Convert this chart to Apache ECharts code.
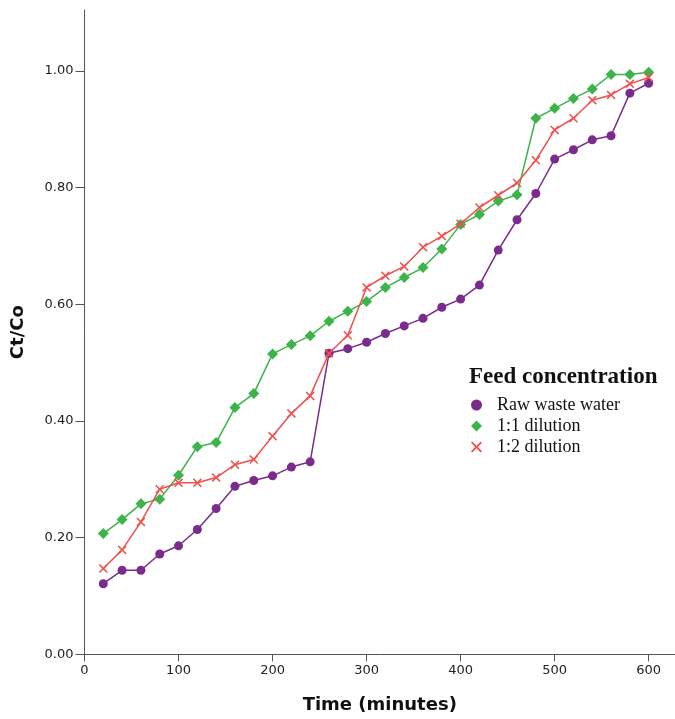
<!DOCTYPE html>
<html>
<head>
<meta charset="utf-8">
<script src="https://cdn.jsdelivr.net/npm/echarts@6/dist/echarts.min.js"></script>
<style>html,body{margin:0;padding:0;background:#fff}#c{width:675px;height:719px}</style>
</head>
<body>
<div id="c"></div>
<script>
var times = [20,40,60,80,100,120,140,160,180,200,220,240,260,280,300,320,340,360,380,400,420,440,460,480,500,520,540,560,580,600];
var rawWaste = [0.121,0.144,0.144,0.172,0.186,0.214,0.250,0.288,0.298,0.306,0.321,0.330,0.516,0.524,0.535,0.550,0.563,0.576,0.595,0.609,0.633,0.693,0.745,0.790,0.849,0.865,0.882,0.889,0.962,0.979];
var dilution11 = [0.207,0.231,0.258,0.266,0.307,0.356,0.363,0.423,0.447,0.515,0.531,0.546,0.571,0.588,0.605,0.629,0.646,0.663,0.695,0.737,0.754,0.777,0.788,0.919,0.936,0.953,0.969,0.994,0.994,0.998];
var dilution12 = [0.147,0.179,0.227,0.283,0.294,0.294,0.303,0.325,0.334,0.374,0.413,0.443,0.516,0.547,0.629,0.649,0.665,0.698,0.717,0.738,0.766,0.787,0.808,0.847,0.899,0.919,0.950,0.959,0.978,0.989];
var seriesNames = ['Raw waste water','1:1 dilution','1:2 dilution'];
var xTicks = [0,100,200,300,400,500,600];
var yTicks = [0,0.2,0.4,0.6,0.8,1.0];

function pairs(ys){ return times.map(function(t,i){ return [t, ys[i]]; }); }
var xMark = 'path://M0,1.2 L1.2,0 L5,3.8 L8.8,0 L10,1.2 L6.2,5 L10,8.8 L8.8,10 L5,6.2 L1.2,10 L0,8.8 L3.8,5 Z';
var cPurple = '#7a2c8c', cGreen = '#3cb449', cRed = '#f0504c';

var chart = echarts.init(document.getElementById('c'), null, {renderer:'canvas'});
chart.setOption({
  animation: false,
  backgroundColor: '#fff',
  title: {
    text: 'Feed concentration',
    left: 469, top: 366, padding: 0,
    textStyle: {fontFamily: 'Liberation Serif', fontWeight: 'bold', fontSize: 23, color: '#111'}
  },
  legend: {
    orient: 'vertical', left: 471, top: 396, padding: 0,
    itemWidth: 11, itemHeight: 11, itemGap: 3,
    textStyle: {fontFamily: 'Liberation Serif', fontSize: 18, color: '#111', lineHeight: 18, padding: [0,0,0,10]},
    data: [
      {name: seriesNames[0], icon: 'circle'},
      {name: seriesNames[1], icon: 'diamond'},
      {name: seriesNames[2], icon: xMark}
    ]
  },
  grid: {left: 84.5, right: 0, top: 10, bottom: 64.7, containLabel: false, outerBoundsMode: 'none'},
  xAxis: {
    type: 'value', min: 0, max: 628,
    name: 'Time (minutes)', nameLocation: 'middle', nameGap: 42,
    nameTextStyle: {fontFamily: 'DejaVu Sans', fontWeight: 'bold', fontSize: 18, color: '#111'},
    axisLine: {show: true, lineStyle: {color: '#555', width: 1}},
    axisTick: {show: true, length: 7, lineStyle: {color: '#555'}, customValues: xTicks},
    axisLabel: {fontFamily: 'DejaVu Sans', fontSize: 13, color: '#222', margin: 10, customValues: xTicks},
    splitLine: {show: false}
  },
  yAxis: {
    type: 'value', min: 0, max: 1.1046,
    name: 'Ct/Co', nameLocation: 'middle', nameGap: 57, nameRotate: 90,
    nameTextStyle: {fontFamily: 'DejaVu Sans', fontWeight: 'bold', fontSize: 18, color: '#111'},
    axisLine: {show: true, lineStyle: {color: '#555', width: 1}},
    axisTick: {show: true, length: 9, lineStyle: {color: '#555'}, customValues: yTicks},
    axisLabel: {fontFamily: 'DejaVu Sans', fontSize: 13, color: '#222', margin: 11, customValues: yTicks,
      formatter: function(v){ return v.toFixed(2); }},
    splitLine: {show: false}
  },
  series: [
    {name: seriesNames[0], type: 'line', data: pairs(rawWaste), symbol: 'circle', symbolSize: 9,
     itemStyle: {color: cPurple}, lineStyle: {color: cPurple, width: 1.5}, z: 2},
    {name: seriesNames[1], type: 'line', data: pairs(dilution11), symbol: 'diamond', symbolSize: 11,
     itemStyle: {color: cGreen}, lineStyle: {color: cGreen, width: 1.5}, z: 3},
    {name: seriesNames[2], type: 'line', data: pairs(dilution12), symbol: xMark, symbolSize: 9,
     itemStyle: {color: cRed}, lineStyle: {color: cRed, width: 1.5}, z: 4}
  ]
});
</script>
</body>
</html>
